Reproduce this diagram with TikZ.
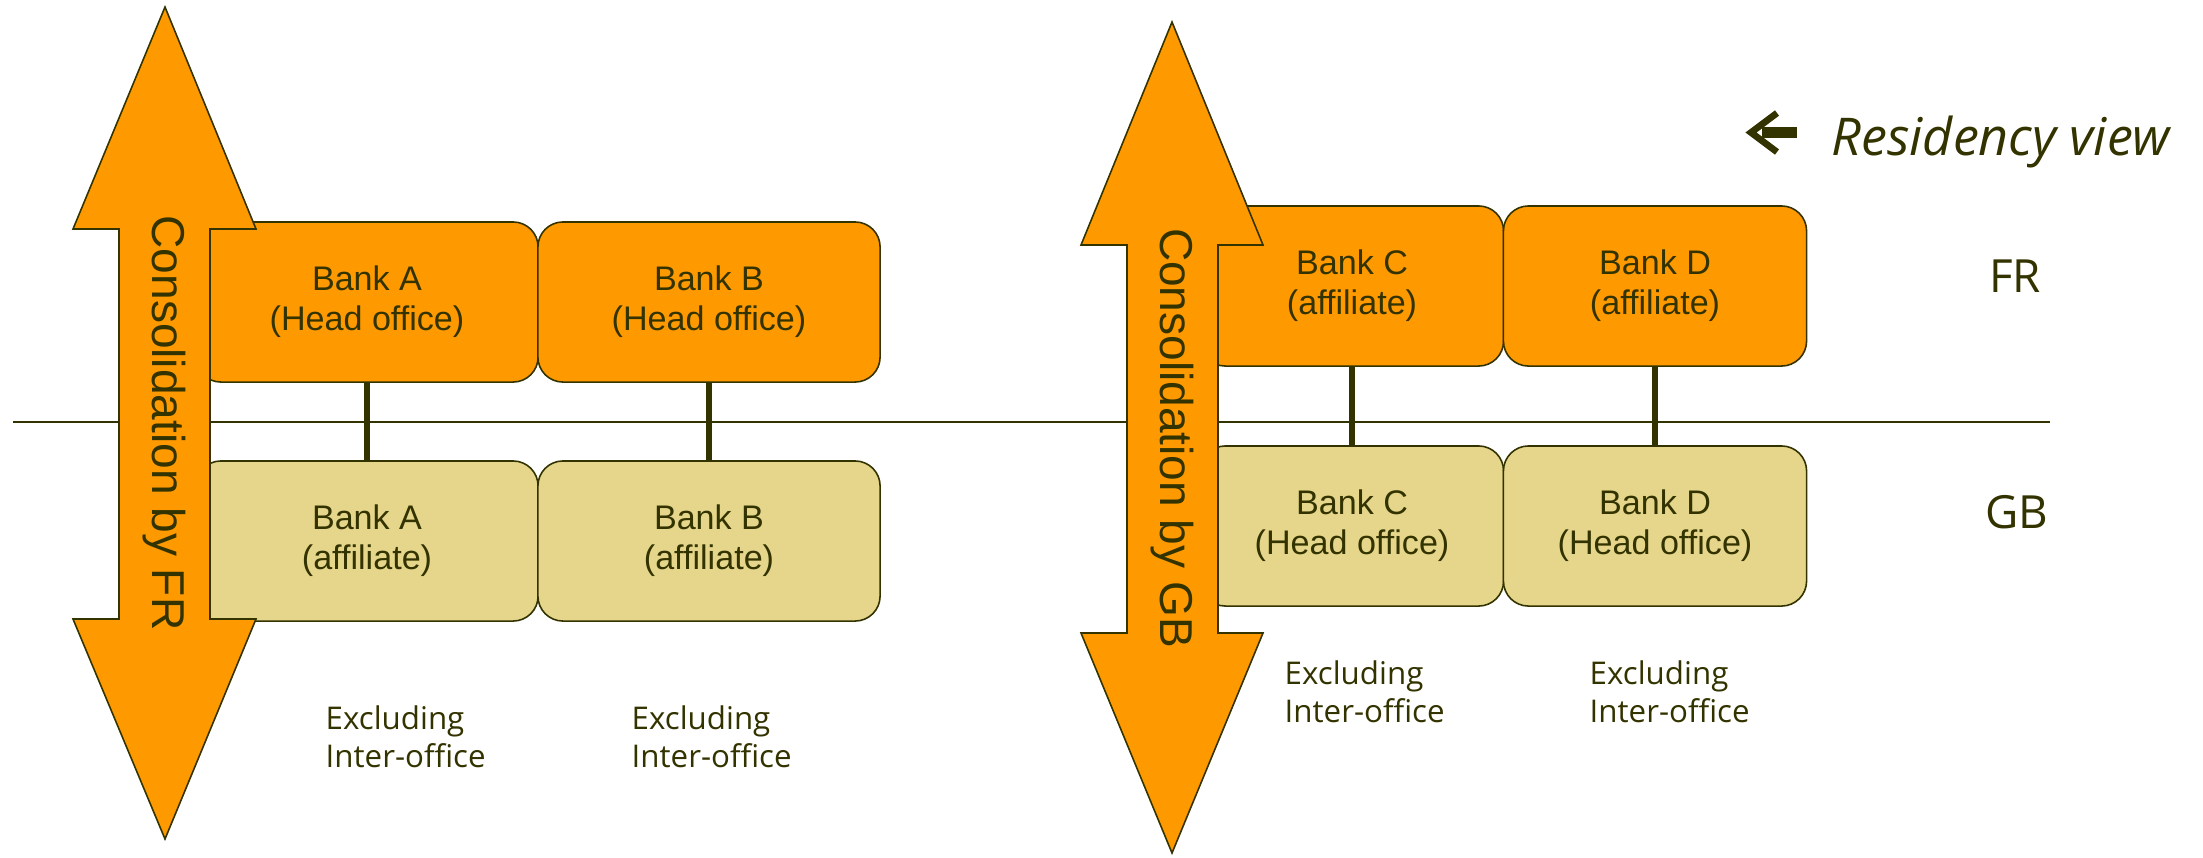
\documentclass[tikz,border=0pt]{standalone}
\usepackage{fontspec}
\setmainfont{Liberation Sans}
\newfontfamily\segoe{Open Sans}
\usetikzlibrary{positioning}
\definecolor{BankOrange}{RGB}{255,153,0}
\definecolor{BankTan}{RGB}{229,214,139}
\definecolor{DarkOlive}{RGB}{51,51,0}

\tikzset{
	bankbox/.style={draw=DarkOlive, line width=0.45pt, rounded corners=0.25cm,
		minimum height=1.6cm, align=center, text=DarkOlive, inner sep=0pt,
		font=\fontsize{9.7}{11.4}\selectfont},
	headoffice/.style={bankbox, fill=BankOrange},
	affiliate/.style={bankbox, fill=BankTan},
	link/.style={DarkOlive, line width=1.8pt},
	bigarrow/.style={fill=BankOrange, draw=DarkOlive, line width=0.45pt},
	arrowtext/.style={rotate=-90, text=DarkOlive, inner sep=0pt,
		font=\fontsize{13.1}{15}\selectfont},
	note/.style={align=left, text=DarkOlive, inner sep=0pt, anchor=north west,
		font=\segoe\fontsize{8.9}{10.8}\selectfont},
	country/.style={text=DarkOlive, inner sep=0pt, font=\segoe\fontsize{13}{15}\selectfont}
}

\begin{document}
\begin{tikzpicture}[x=0.01cm, y=-0.01cm]
	\useasboundingbox (0,0) rectangle (2203,857);
	
	% border line between FR and GB
	\coordinate (lineL) at (13,422);
	\coordinate (lineR) at (2050,422);
	\draw[DarkOlive, line width=0.6pt] (lineL) -- (lineR);
	
	% group consolidated by FR
	\node[headoffice, minimum width=3.42cm] (Aho) at (367,302) {Bank A\\(Head office)};
	\node[headoffice, minimum width=3.42cm] (Bho) at (709,302) {Bank B\\(Head office)};
	\node[affiliate, minimum width=3.42cm] (Aaf) at (367,541) {Bank A\\(affiliate)};
	\node[affiliate, minimum width=3.42cm] (Baf) at (709,541) {Bank B\\(affiliate)};
	\draw[link] (Aho) -- (Aaf);
	\draw[link] (Bho) -- (Baf);
	
	% group consolidated by GB
	\node[headoffice, minimum width=3.03cm] (Caf) at (1352,286) {Bank C\\(affiliate)};
	\node[headoffice, minimum width=3.03cm] (Daf) at (1655,286) {Bank D\\(affiliate)};
	\node[affiliate, minimum width=3.03cm] (Cho) at (1352,526) {Bank C\\(Head office)};
	\node[affiliate, minimum width=3.03cm] (Dho) at (1655,526) {Bank D\\(Head office)};
	\draw[link] (Caf) -- (Cho);
	\draw[link] (Daf) -- (Dho);
	
	% double arrows
	\draw[bigarrow] (165,7) -- (256,229) -- (210,229) -- (210,619) -- (256,619) -- (165,839)
		-- (73,619) -- (119,619) -- (119,229) -- (73,229) -- cycle;
	\node[arrowtext] (consFR) at (164.5,423) {Consolidation by FR};
	\draw[bigarrow] (1172,22) -- (1263,245) -- (1218,245) -- (1218,633) -- (1263,633) -- (1172,853)
		-- (1081,633) -- (1127,633) -- (1127,245) -- (1081,245) -- cycle;
	\node[arrowtext] (consGB) at (1172.5,438) {Consolidation by GB};
	
	% notes under the banks
	\node[note] (exA) at (325,705) {Excluding\\Inter-office};
	\node[note] (exB) at (631,705) {Excluding\\Inter-office};
	\node[note] (exC) at (1284,660) {Excluding\\Inter-office};
	\node[note] (exD) at (1589,660) {Excluding\\Inter-office};
	
	% countries
	\node[country] (FR) at (2015,276) {FR};
	\node[country] (GB) at (2017,512) {GB};
	
	% residency view
	\fill[DarkOlive] (1762,127) rectangle (1797,138);
	\draw[DarkOlive, line width=1.9pt, line join=miter] (1777,113) -- (1751,132.5) -- (1777,152);
	\node[anchor=base west, inner sep=0pt, text=DarkOlive, font=\segoe\itshape\fontsize{14.8}{17}\selectfont]
		(resview) at (1831,155) {Residency view};
\end{tikzpicture}
\end{document}
